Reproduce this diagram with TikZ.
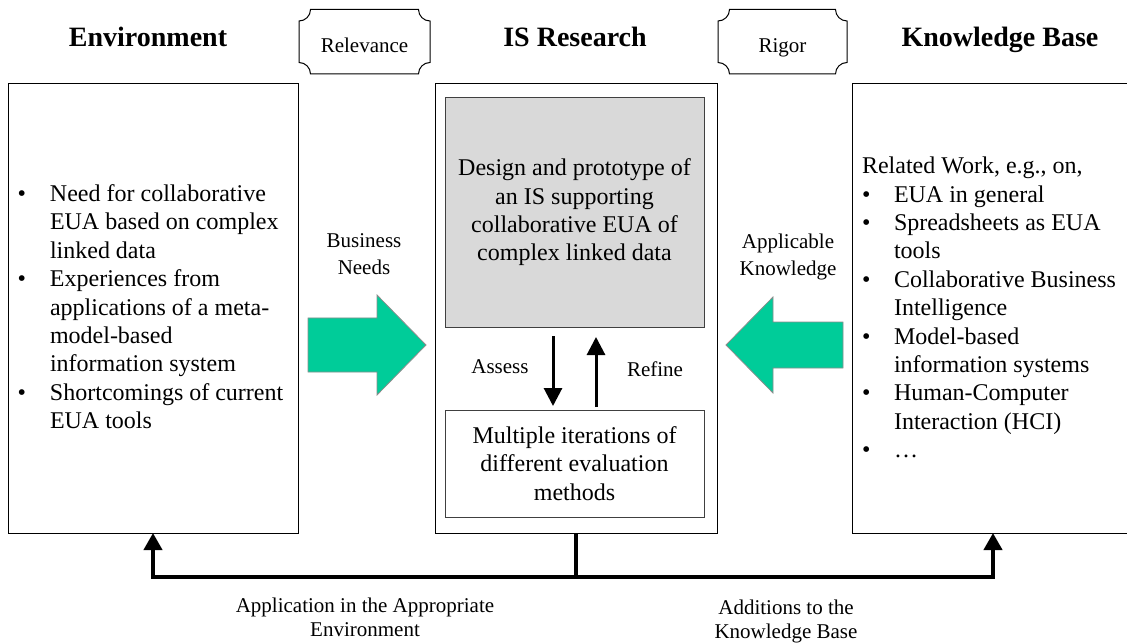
\documentclass[tikz,border=0pt]{standalone}
\usepackage{fontspec}
\setmainfont{Liberation Serif}
\usetikzlibrary{arrows.meta,calc}
\definecolor{flowgreen}{RGB}{0,204,153}
\definecolor{designgray}{RGB}{217,217,217}
\begin{document}
\begin{tikzpicture}[x=1pt,y=-1pt,
  every node/.style={inner sep=0pt, outer sep=0pt},
  panel/.style={draw=black, line width=1pt, anchor=north west},
  subpanel/.style={draw=black!75, line width=1pt, anchor=north west, align=center,
    font=\fontsize{24}{28.4}\selectfont},
  heading/.style={font=\fontsize{28}{33}\selectfont\bfseries, anchor=base},
  caption/.style={font=\fontsize{21}{26.5}\selectfont, align=center},
  body/.style={font=\fontsize{24}{28.4}\selectfont, anchor=west},
  cyclearrow/.style={line width=3pt, -{Triangle[width=18pt,length=18pt]}},
  feedback/.style={line width=4pt, -{Triangle[width=18pt,length=17pt]}},
  flow/.style={fill=flowgreen, draw=black!45, line width=0.8pt},
  plaque/.style={draw=black, line width=1pt}
]
\useasboundingbox (0,0) rectangle (1127,644);

% column headings
\node[heading] (envtitle) at (148,46.7) {Environment};
\node[heading] (istitle)  at (575,46.7) {IS Research};
\node[heading] (kbtitle)  at (1000,46.7) {Knowledge Base};

% plaques with concave corners
\draw[plaque] (299,21) arc[start angle=90,end angle=0,radius=11.5] -- (418.5,9.5)
  arc[start angle=180,end angle=90,radius=11.5] -- (430,62.5)
  arc[start angle=270,end angle=180,radius=11.5] -- (310.5,74)
  arc[start angle=0,end angle=-90,radius=11.5] -- cycle;
\node[caption, anchor=base] (relevance) at (364.5,52.5) {Relevance};

\draw[plaque] (718,21) arc[start angle=90,end angle=0,radius=11.5] -- (835.5,9.5)
  arc[start angle=180,end angle=90,radius=11.5] -- (847,62.5)
  arc[start angle=270,end angle=180,radius=11.5] -- (729.5,74)
  arc[start angle=0,end angle=-90,radius=11.5] -- cycle;
\node[caption, anchor=base] (rigor) at (782.5,52.5) {Rigor};

% the three panels
\node[panel, minimum width=290pt, minimum height=449pt] (env) at (8,84) {};
\node[panel, minimum width=282pt, minimum height=449pt] (research) at (435,84) {};
\node[panel, minimum width=282pt, minimum height=449pt] (kb) at (852,84) {};

% environment list
\node[body] (envtext) at (17.5,309.5) {\begin{tabular}{@{}p{32.5pt}@{}l@{}}
\textbullet & Need for collaborative\\
 & EUA based on complex\\
 & linked data\\
\textbullet & Experiences from\\
 & applications of a meta-\\
 & model-based\\
 & information system\\
\textbullet & Shortcomings of current\\
 & EUA tools
\end{tabular}};

% knowledge base list
\node[body] (kbtext) at (862,310) {\begin{tabular}{@{}p{32pt}@{}l@{}}
\multicolumn{2}{@{}l@{}}{Related Work, e.g., on,}\\
\textbullet & EUA in general\\
\textbullet & Spreadsheets as EUA\\
 & tools\\
\textbullet & Collaborative Business\\
 & Intelligence\\
\textbullet & Model-based\\
 & information systems\\
\textbullet & Human-Computer\\
 & Interaction (HCI)\\
\textbullet & …
\end{tabular}};

% IS research contents
\node[subpanel, fill=designgray, minimum width=259pt, minimum height=229pt] (design) at (445,98)
  {Design and prototype of\\an IS supporting\\collaborative EUA of\\complex linked data};
\node[subpanel, fill=white, minimum width=259pt, minimum height=107pt] (eval) at (445,410)
  {Multiple iterations of\\different evaluation\\methods};

\draw[cyclearrow] ([xshift=-21.5pt,yshift=-9pt]design.south) -- ([xshift=-21.5pt,yshift=4pt]eval.north);
\draw[cyclearrow] ([xshift=21.5pt,yshift=3pt]eval.north) -- ([xshift=21.5pt,yshift=-10pt]design.south);
\node[caption] (assess) at (500,367) {Assess};
\node[caption] (refine) at (655,369) {Refine};

% business needs and applicable knowledge
\path[flow] (308,318) -- (377,318) -- (377,295) -- (426,345) -- (377,395) -- (377,372) -- (308,372) -- cycle;
\node[caption, anchor=north] (needs) at (364,234) {Business\\Needs};
\path[flow] (843,322) -- (773,322) -- (773,297) -- (726,345) -- (773,393) -- (773,368) -- (843,368) -- cycle;
\node[caption, anchor=north] (applicable) at (788,234) {Applicable\\Knowledge};

% feedback to environment and knowledge base
\coordinate (hub) at (576,577);
\draw[line width=4pt] (research.south) -- (hub);
\draw[feedback] (hub) -| (env.south);
\draw[feedback] (hub) -| (kb.south);
\node[caption, anchor=north, font=\fontsize{21}{24.5}\selectfont] (application) at (365,597.5)
  {Application in the Appropriate\\Environment};
\node[caption, anchor=north, font=\fontsize{21}{24.5}\selectfont] (additions) at (786,599.5)
  {Additions to the\\Knowledge Base};
\end{tikzpicture}
\end{document}
